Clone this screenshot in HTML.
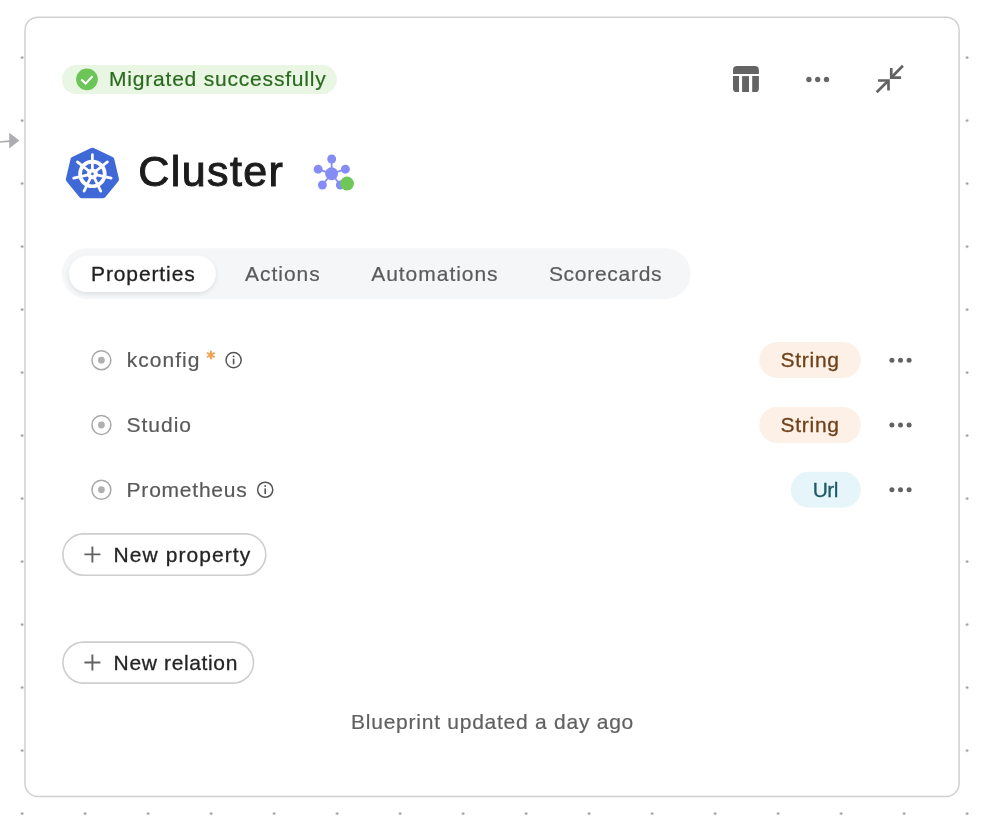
<!DOCTYPE html>
<html>
<head>
<meta charset="utf-8">
<title>Cluster blueprint</title>
<style>
html,body{margin:0;padding:0;}
body{width:998px;height:830px;position:relative;overflow:hidden;background:#fff;
  font-family:"Liberation Sans",sans-serif;color:#222;}
#layer{position:absolute;left:0;top:0;width:998px;height:830px;will-change:transform;}
#art{position:absolute;left:0;top:0;width:998px;height:830px;overflow:visible;}
.t{position:absolute;white-space:nowrap;line-height:1;font-size:21px;-webkit-text-stroke:0.2px;}
</style>
</head>
<body>
<div id="layer">
<svg id="art" width="998" height="830" viewBox="0 0 998 830">
  <defs>
    <filter id="sh" x="-10%" y="-30%" width="120%" height="170%">
      <feDropShadow dx="0" dy="1.8" stdDeviation="2" flood-color="#000" flood-opacity="0.10"/>
    </filter>
    <pattern id="dots" x="-9.4" y="26.1" width="63" height="63" patternUnits="userSpaceOnUse">
      <circle cx="31.5" cy="31.5" r="1.2" fill="#8f8f8f"/>
    </pattern>
    <g id="radio">
      <circle r="9.45" fill="none" stroke="#a8a8a8" stroke-width="1.5"/>
      <circle r="3.4" fill="#b0b0b0"/>
    </g>
    <g id="info">
      <circle r="7.6" fill="none" stroke="#555" stroke-width="1.5"/>
      <rect x="-0.8" y="-1.4" width="1.6" height="5.7" fill="#555"/>
      <circle cx="0" cy="-3.7" r="0.95" fill="#555"/>
    </g>
    <g id="more">
      <circle cx="-8.6" cy="0" r="2.5" fill="#626262"/>
      <circle cx="0" cy="0" r="2.5" fill="#626262"/>
      <circle cx="8.6" cy="0" r="2.5" fill="#626262"/>
    </g>
    <g id="plus">
      <path d="M0 -8 V8 M-8 0 H8" stroke="#626262" stroke-width="1.9" fill="none"/>
    </g>
  </defs>

  <!-- canvas dot grid -->
  <rect width="998" height="830" fill="url(#dots)"/>

  <!-- card -->
  <rect x="24.97" y="17.14" width="934.13" height="779.46" rx="13" ry="13" fill="#fff" stroke="#d0d0d0" stroke-width="1.5"/>

  <!-- incoming edge arrow -->
  <path d="M-1 142.1 C3 141.7 6 141.2 10 141.1" stroke="#adacb2" stroke-width="1.6" fill="none"/>
  <path d="M9.2 132.7 L19.4 140.6 L9.2 148.5 Z" fill="#adacb2"/>

  <!-- status badge -->
  <rect x="61.85" y="64.95" width="275.05" height="29.1" rx="14.55" fill="#e9f6e3"/>
  <g transform="translate(86.98 79.36)">
    <circle r="10.9" fill="#6cc559"/>
    <path d="M-5.7 0.15 L-1.35 4.25 L5.5 -3.05" stroke="#fff" stroke-width="2.05" fill="none"/>
  </g>

  <!-- header: table icon -->
  <g fill="#646464">
    <path d="M733 73.9 V70.1 a4 4 0 0 1 4 -4 h17.9 a4 4 0 0 1 4 4 V73.9 Z"/>
    <path d="M733 76.1 h6 V92 h-2.4 a3.6 3.6 0 0 1 -3.6 -3.6 Z"/>
    <rect x="742.1" y="76.1" width="6.9" height="15.9"/>
    <path d="M752.2 76.1 h6.7 V88.4 a3.6 3.6 0 0 1 -3.6 3.6 h-3.1 Z"/>
  </g>
  <!-- header: more -->
  <g fill="#666">
    <circle cx="808.9" cy="79.5" r="2.65"/>
    <circle cx="817.7" cy="79.5" r="2.65"/>
    <circle cx="826.5" cy="79.5" r="2.65"/>
  </g>
  <!-- header: collapse -->
  <g stroke="#636363" stroke-width="2.7" fill="none" stroke-linecap="butt" stroke-linejoin="miter">
    <path d="M902.9 65.7 L891.6 77.3"/>
    <path d="M891.25 68.1 V77.6 H901.1"/>
    <path d="M876.7 92.3 L888.2 80.8"/>
    <path d="M878.1 80.5 H888.5 V90.6"/>
  </g>

  <!-- kubernetes logo -->
  <g transform="translate(92.4 174.1)">
    <polygon transform="translate(0 0.1) scale(1 0.972)" points="0,-24.2 18.92,-15.09 23.59,5.39 10.5,21.8 -10.5,21.8 -23.59,5.39 -18.92,-15.09"
      fill="#4069d8" stroke="#4069d8" stroke-width="6" stroke-linejoin="round"/>
    <g transform="translate(0 -0.2)">
      <circle r="12.35" fill="none" stroke="#fff" stroke-width="3.7"/>
      <g stroke="#fff" stroke-width="2.7" stroke-linecap="round">
        <line x1="0" y1="0" x2="0" y2="-19.2"/>
        <line x1="0" y1="0" x2="15.01" y2="-11.97"/>
        <line x1="0" y1="0" x2="18.72" y2="4.27"/>
        <line x1="0" y1="0" x2="8.33" y2="17.3"/>
        <line x1="0" y1="0" x2="-8.33" y2="17.3"/>
        <line x1="0" y1="0" x2="-18.72" y2="4.27"/>
        <line x1="0" y1="0" x2="-15.01" y2="-11.97"/>
      </g>
      <circle r="5.4" fill="#fff"/>
      <circle r="1.35" fill="#4069d8"/>
    </g>
  </g>

  <!-- relations icon with green status -->
  <g stroke="#858cf5" stroke-width="1.8">
    <line x1="331.6" y1="173.8" x2="331.7" y2="159"/>
    <line x1="331.6" y1="173.8" x2="318.1" y2="169.2"/>
    <line x1="331.6" y1="173.8" x2="345.4" y2="169.2"/>
    <line x1="331.6" y1="173.8" x2="322.4" y2="185"/>
    <line x1="331.6" y1="173.8" x2="340.3" y2="185"/>
  </g>
  <g fill="#858cf5">
    <circle cx="331.6" cy="173.8" r="6.45"/>
    <circle cx="331.7" cy="159" r="4.45"/>
    <circle cx="318.1" cy="169.2" r="4.45"/>
    <circle cx="345.4" cy="169.2" r="4.45"/>
    <circle cx="322.4" cy="185" r="4.45"/>
    <circle cx="340.3" cy="185" r="4.45"/>
  </g>
  <circle cx="347" cy="183.6" r="7" fill="#6fc759"/>

  <!-- tabs -->
  <rect x="61.9" y="248.2" width="628.7" height="50.7" rx="25.35" fill="#f5f6f7"/>
  <rect x="68.95" y="255.65" width="146.8" height="36.4" rx="18.2" fill="#fff" filter="url(#sh)"/>

  <!-- property rows -->
  <use href="#radio" x="101.4" y="360.2"/>
  <use href="#radio" x="101.4" y="425"/>
  <use href="#radio" x="101.4" y="489.75"/>

  <g transform="translate(210.9 355)" stroke="#f0a150" stroke-width="2" stroke-linecap="butt">
    <line x1="0" y1="-4.3" x2="0" y2="4.3"/>
    <line x1="-3.9" y1="-2.25" x2="3.9" y2="2.25"/>
    <line x1="-3.9" y1="2.25" x2="3.9" y2="-2.25"/>
  </g>
  <use href="#info" x="233.6" y="360.1"/>
  <use href="#info" x="265.2" y="489.75"/>

  <rect x="759.2" y="341.95" width="101.6" height="36.1" rx="18.05" fill="#fdf0e6"/>
  <rect x="759.2" y="406.95" width="101.6" height="36.1" rx="18.05" fill="#fdf0e6"/>
  <rect x="790.8" y="471.65" width="70" height="36.0" rx="18" fill="#e5f5f9"/>

  <use href="#more" x="900.5" y="360.15"/>
  <use href="#more" x="900.5" y="425"/>
  <use href="#more" x="900.5" y="489.8"/>

  <!-- buttons -->
  <rect x="62.9" y="533.9" width="202.9" height="41.3" rx="20.65" fill="#fff" stroke="#cecece" stroke-width="1.6"/>
  <use href="#plus" x="92.4" y="554.4"/>
  <rect x="62.9" y="642.1" width="190.6" height="41.0" rx="20.5" fill="#fff" stroke="#cecece" stroke-width="1.6"/>
  <use href="#plus" x="92.4" y="662.5"/>
</svg>

<div class="t" style="left:109px;top:68px;color:#2a6a1e;letter-spacing:0.8px;">Migrated successfully</div>

<div class="t" style="left:138.2px;top:150px;font-size:43px;color:#1c1c1c;letter-spacing:1.42px;-webkit-text-stroke:1px #1c1c1c;">Cluster</div>

<div class="t" style="left:91px;top:263px;color:#222;letter-spacing:0.89px;-webkit-text-stroke:0.3px #222;">Properties</div>
<div class="t" style="left:245px;top:263px;color:#5b5b5b;letter-spacing:0.97px;">Actions</div>
<div class="t" style="left:371.2px;top:263px;color:#5b5b5b;letter-spacing:0.97px;">Automations</div>
<div class="t" style="left:548.9px;top:263px;color:#5b5b5b;letter-spacing:0.72px;">Scorecards</div>

<div class="t" style="left:126.7px;top:349px;color:#595959;letter-spacing:1.03px;">kconfig</div>
<div class="t" style="left:126.6px;top:414px;color:#595959;letter-spacing:0.96px;">Studio</div>
<div class="t" style="left:126.6px;top:479px;color:#595959;letter-spacing:0.77px;">Prometheus</div>

<div class="t" style="left:780.5px;top:349px;color:#6f4119;letter-spacing:0.73px;-webkit-text-stroke:0.3px #6f4119;">String</div>
<div class="t" style="left:780.5px;top:414px;color:#6f4119;letter-spacing:0.73px;-webkit-text-stroke:0.3px #6f4119;">String</div>
<div class="t" style="left:812.7px;top:479px;color:#1e5a66;letter-spacing:-0.5px;-webkit-text-stroke:0.3px #1e5a66;">Url</div>

<div class="t" style="left:113.6px;top:544px;color:#242424;letter-spacing:1.06px;-webkit-text-stroke:0.3px #242424;">New property</div>
<div class="t" style="left:113.6px;top:652px;color:#242424;letter-spacing:0.64px;-webkit-text-stroke:0.3px #242424;">New relation</div>

<div class="t" style="left:351.1px;top:711px;color:#606060;letter-spacing:0.75px;">Blueprint updated a day ago</div>
</div>
</body>
</html>
